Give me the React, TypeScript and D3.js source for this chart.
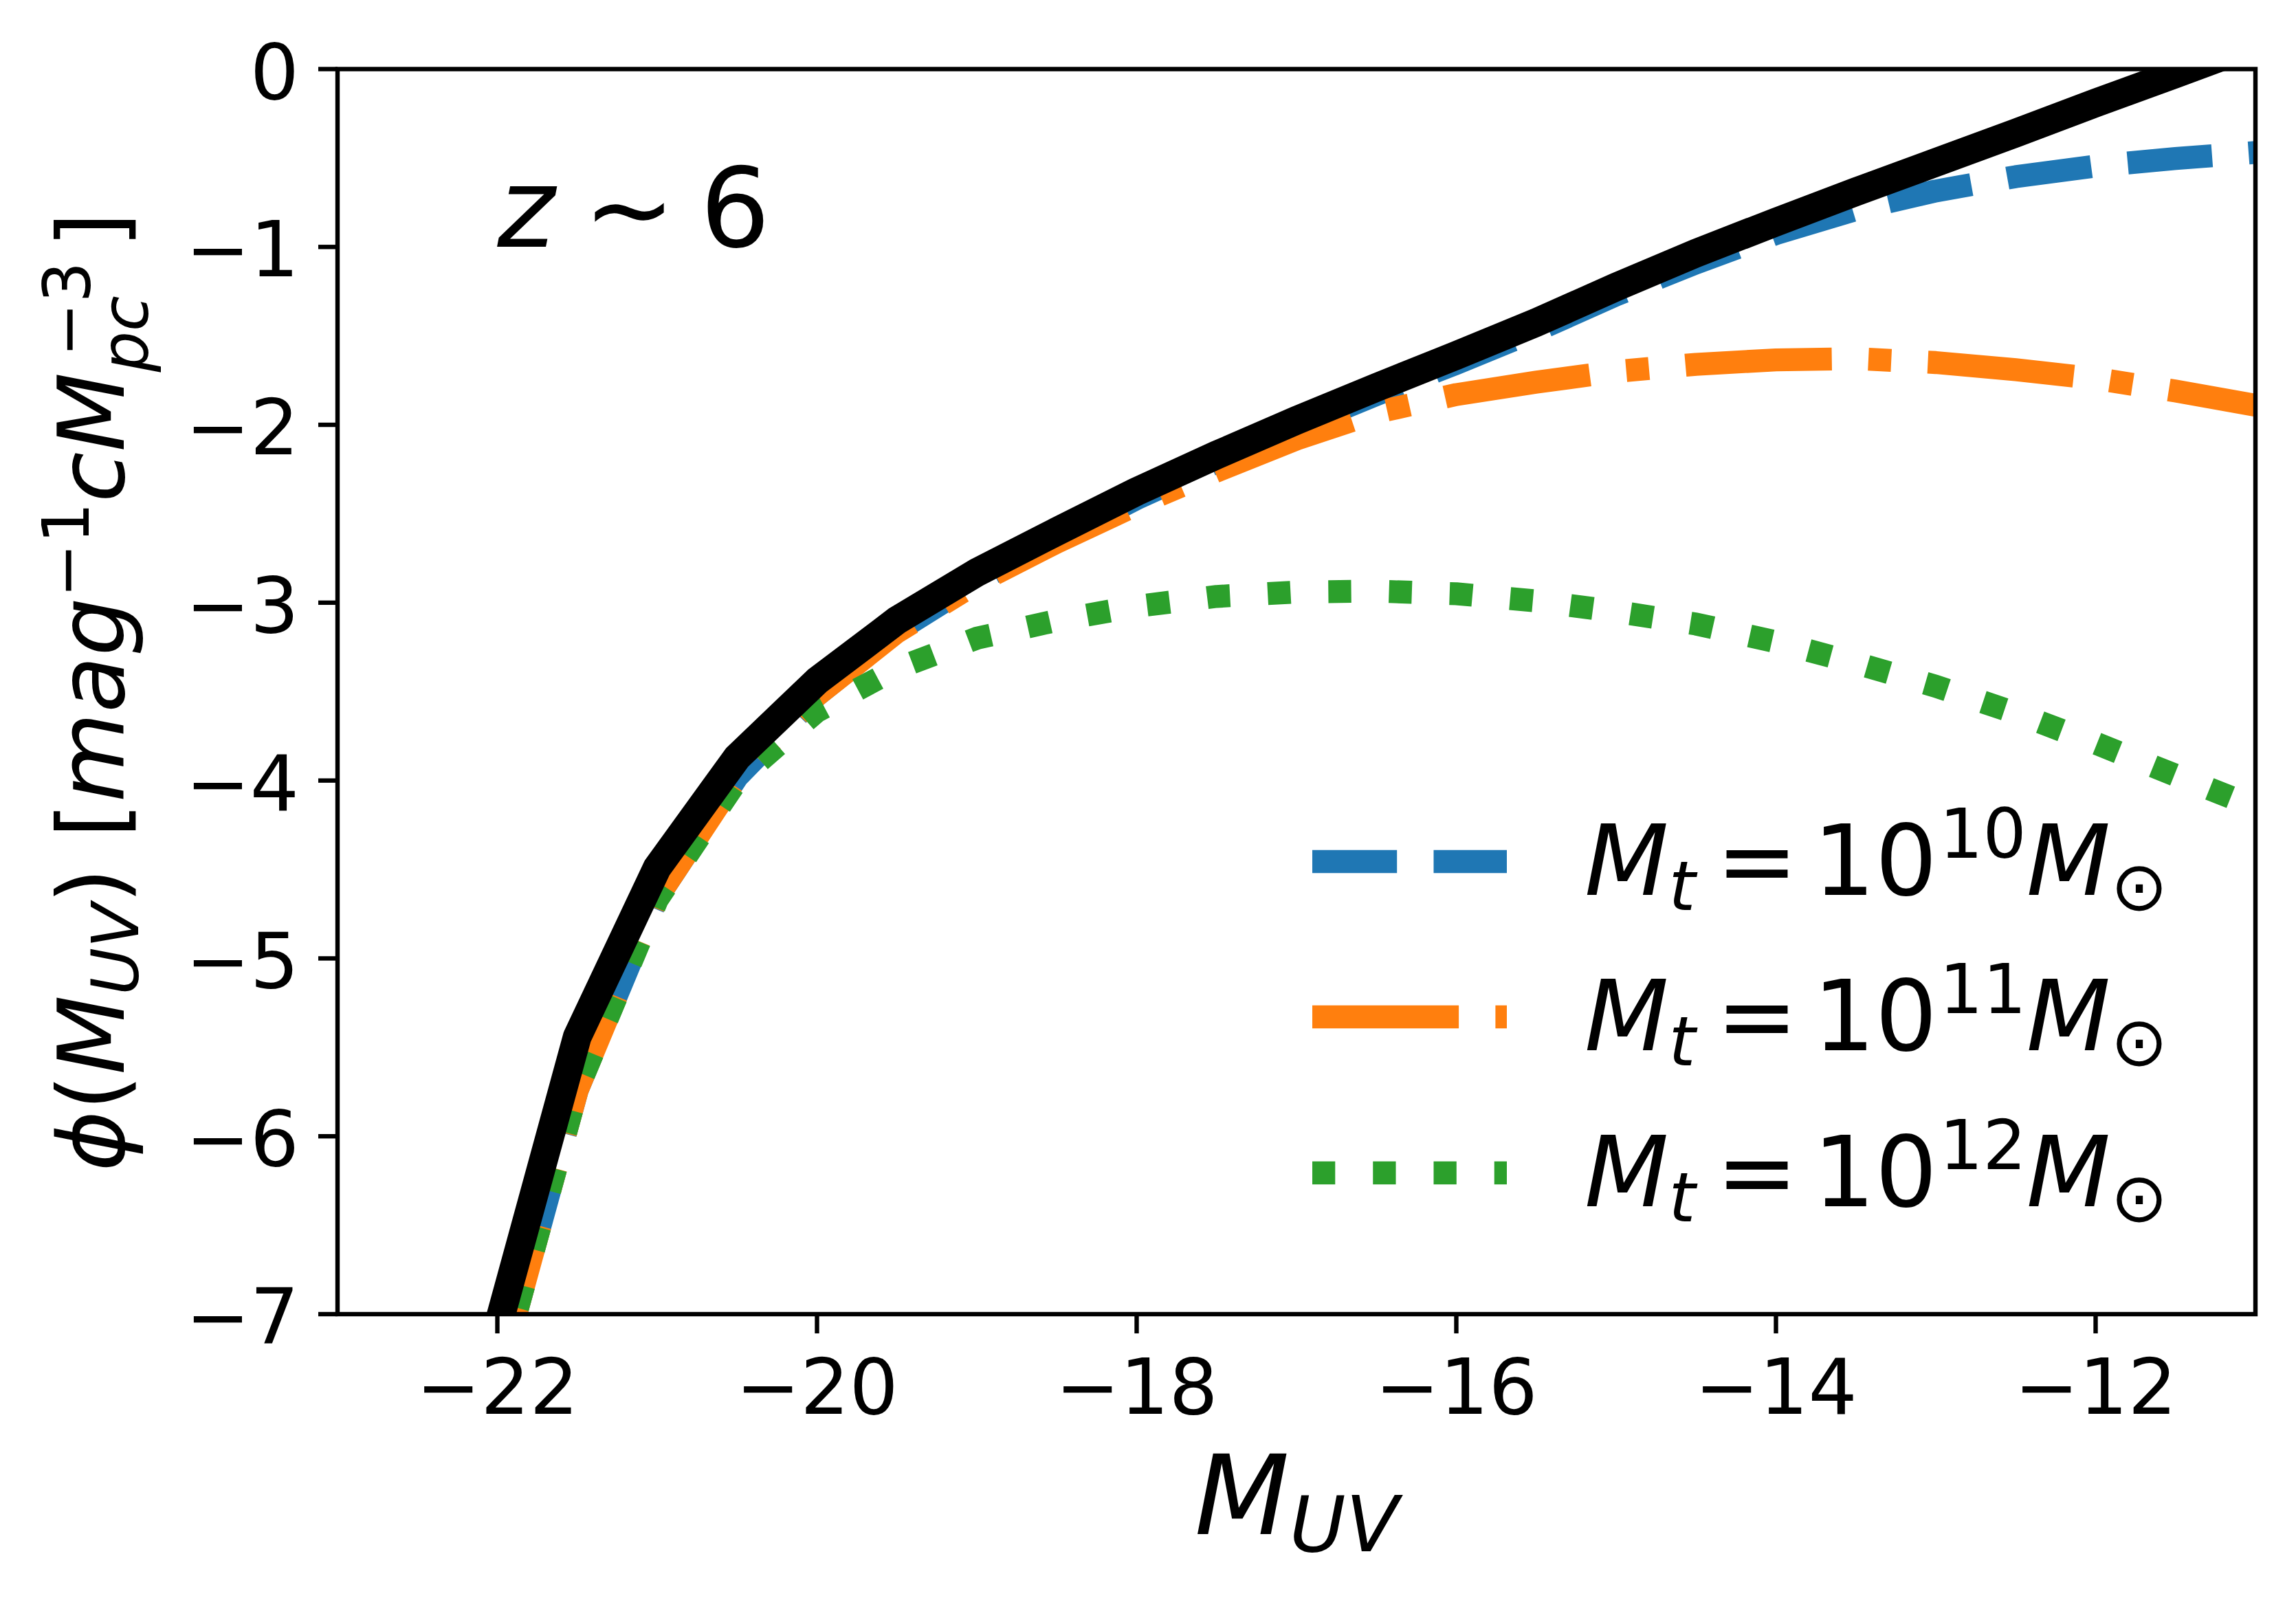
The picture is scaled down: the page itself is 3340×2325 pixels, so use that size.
import React from 'react';
import * as d3 from 'd3';

// M_UV grid (mag)
const MUV = [-22, -21.5, -21, -20.5, -20, -19.5, -19, -18.5, -18, -17.5, -17, -16.5, -16, -15.5, -15, -14.5, -14, -13.5, -13, -12.5, -12, -11.5, -11];

// log10 phi values
const PHI_BLACK = [-7.08, -5.44, -4.49, -3.87, -3.44, -3.10, -2.83, -2.60, -2.375, -2.17, -1.975, -1.79, -1.61, -1.425, -1.225, -1.035, -0.86, -0.69, -0.525, -0.36, -0.19, -0.027, 0.14];
const PHI_MT10 = [-7.38, -5.74, -4.66, -3.98, -3.52, -3.16, -2.88, -2.645, -2.415, -2.21, -2.015, -1.83, -1.655, -1.47, -1.27, -1.09, -0.925, -0.79, -0.685, -0.605, -0.545, -0.503, -0.469];
const PHI_MT11 = [-7.38, -5.74, -4.66, -3.98, -3.52, -3.165, -2.89, -2.66, -2.45, -2.26, -2.08, -1.93, -1.83, -1.76, -1.70, -1.66, -1.635, -1.628, -1.65, -1.69, -1.74, -1.81, -1.89];
const PHI_MT12 = [-7.38, -5.74, -4.67, -4.0, -3.61, -3.37, -3.20, -3.10, -3.02, -2.965, -2.94, -2.935, -2.95, -2.99, -3.05, -3.12, -3.22, -3.34, -3.47, -3.62, -3.79, -3.97, -4.15];

const X_TICKS = [-22, -20, -18, -16, -14, -12];
const Y_TICKS = [-7, -6, -5, -4, -3, -2, -1, 0];
const MT_EXPONENTS = ['10', '11', '12'];

const X_DOMAIN: [number, number] = [-23, -11];
const Y_DOMAIN: [number, number] = [-7, 0];

const FONT = '"DejaVu Sans", sans-serif';
const LW = 33.3;
const LW_BLACK = 41.7;

// dash patterns (in units of line width) and a point along the curve (M_UV) where
// a given position of the pattern sits, so the dash phase matches the figure
const SERIES = [
  { vals: PHI_MT10, color: '#1f77b4', pattern: [3.7, 1.6], anchorU: -12.29, anchorPos: 1.85 },
  { vals: PHI_MT11, color: '#ff7f0e', pattern: [6.4, 1.6, 1, 1.6], anchorU: -13.35, anchorPos: 8.5 },
  { vals: PHI_MT12, color: '#2ca02c', pattern: [1, 1.65], anchorU: -14.84, anchorPos: 0.5 },
];

const fmt = (v: number) => (v < 0 ? '\u2212' + Math.abs(v) : String(v));

export default function App() {
  const W = 3340;
  const H = 2325;
  const L = 491, R = 3281, T = 100.5, B = 1912;
  const x = d3.scaleLinear().domain(X_DOMAIN).range([L, R]);
  const y = d3.scaleLinear().domain(Y_DOMAIN).range([B, T]);
  const mkLine = (vals: number[]) =>
    d3.line<number>().x((_, i) => x(MUV[i])).y((d) => y(d))(vals) || '';

  const lenTo = (vals: number[], uStar: number) => {
    let acc = 0;
    for (let i = 1; i < MUV.length; i++) {
      const x0 = x(MUV[i - 1]), y0 = y(vals[i - 1]);
      const x1 = x(MUV[i]), y1 = y(vals[i]);
      const seg = Math.hypot(x1 - x0, y1 - y0);
      if (MUV[i] <= uStar) acc += seg;
      else {
        const t = (uStar - MUV[i - 1]) / (MUV[i] - MUV[i - 1]);
        acc += t * seg;
        break;
      }
    }
    return acc;
  };

  const tickLen = 28;
  const spineW = 6.4;
  const tickFs = 112;

  const legendX0 = 1909, legendX1 = 2192, legendTextX = 2305;
  const legendBase = [1302, 1528, 1755];

  return (
    <div style={{ position: 'absolute', left: 0, top: 0 }}>
      <svg width={W} height={H} viewBox={`0 0 ${W} ${H}`} style={{ display: 'block', background: '#fff' }} fontFamily={FONT}>
        <defs>
          <clipPath id="plotclip">
            <rect x={L} y={T} width={R - L} height={B - T} />
          </clipPath>
        </defs>
        <rect x={0} y={0} width={W} height={H} fill="#fff" />
        <g clipPath="url(#plotclip)">
          {SERIES.map((s, i) => {
            const dash = s.pattern.map((p) => p * LW);
            const period = dash.reduce((a, b) => a + b, 0);
            const sStar = lenTo(s.vals, s.anchorU);
            const off = (((s.anchorPos * LW - sStar) % period) + period) % period;
            return (
              <path key={i} d={mkLine(s.vals)} fill="none" stroke={s.color} strokeWidth={LW}
                strokeDasharray={dash.join(' ')} strokeDashoffset={off}
                strokeLinejoin="round" strokeLinecap="butt" />
            );
          })}
          <path d={mkLine(PHI_BLACK)} fill="none" stroke="#000" strokeWidth={LW_BLACK}
            strokeLinejoin="round" strokeLinecap="square" />
        </g>
        {/* spines */}
        <rect x={L} y={T} width={R - L} height={B - T} fill="none" stroke="#000" strokeWidth={spineW} />
        {/* x ticks */}
        {X_TICKS.map((t) => (
          <g key={'x' + t}>
            <line x1={x(t)} x2={x(t)} y1={B} y2={B + tickLen} stroke="#000" strokeWidth={spineW} />
            <text x={x(t)} y={2057} fontSize={tickFs} textAnchor="middle" fill="#000">{fmt(t)}</text>
          </g>
        ))}
        {/* y ticks */}
        {Y_TICKS.map((t) => (
          <g key={'y' + t}>
            <line x1={L - tickLen} x2={L} y1={y(t)} y2={y(t)} stroke="#000" strokeWidth={spineW} />
            <text x={435} y={y(t) + 43} fontSize={tickFs} textAnchor="end" fill="#000">{fmt(t)}</text>
          </g>
        ))}
        {/* x label */}
        <text x={(L + R) / 2} y={2232} fontSize={160} textAnchor="middle" fill="#000">
          <tspan fontStyle="italic">M</tspan>
          <tspan fontStyle="italic" fontSize={112} dy={24.5}>UV</tspan>
        </text>
        {/* y label */}
        <text transform={`translate(180, ${(T + B) / 2}) rotate(-90)`} x={0} y={0} fontSize={134} textAnchor="middle" fill="#000">
          <tspan fontStyle="italic">{'\u03D5'}</tspan>
          <tspan>(</tspan>
          <tspan fontStyle="italic">M</tspan>
          <tspan fontStyle="italic" fontSize={94} dy={21}>UV</tspan>
          <tspan dy={-21}>)</tspan>
          <tspan dx={43}>[</tspan>
          <tspan fontStyle="italic">mag</tspan>
          <tspan fontSize={94} dy={-51}>{'\u22121'}</tspan>
          <tspan fontStyle="italic" dy={51}>c</tspan>
          <tspan fontStyle="italic">M</tspan>
          <tspan fontStyle="italic" fontSize={94} dy={35}>pc</tspan>
          <tspan fontSize={94} dx={-89} dy={-84}>{'\u22123'}</tspan>
          <tspan dx={20} dy={49}>]</tspan>
        </text>
        {/* z ~ 6 annotation */}
        <text x={x(-22)} y={y(-1)} fontSize={160} fill="#000">
          <tspan fontStyle="italic">z</tspan>
          <tspan dx={41}>{'\u223C'}</tspan>
          <tspan dx={36}>6</tspan>
        </text>
        {/* legend */}
        {SERIES.map((s, i) => (
          <g key={'leg' + i}>
            <line x1={legendX0} x2={legendX1} y1={legendBase[i] - 48.5} y2={legendBase[i] - 48.5}
              stroke={s.color} strokeWidth={LW} strokeDasharray={s.pattern.map((p) => p * LW).join(' ')} strokeLinecap="butt" />
            <text x={legendTextX} y={legendBase[i]} fontSize={142} fill="#000">
              <tspan fontStyle="italic">M</tspan>
              <tspan fontStyle="italic" fontSize={99.4} dy={22}>t</tspan>
              <tspan dx={30} dy={-22}>=</tspan>
              <tspan dx={22}>10</tspan>
              <tspan fontSize={99.4} dx={3} dy={-53.6}>{MT_EXPONENTS[i]}</tspan>
              <tspan fontStyle="italic" dy={53.6}>M</tspan>
              <tspan fontSize={99.4} dy={22}>{'\u2299'}</tspan>
            </text>
          </g>
        ))}
      </svg>
    </div>
  );
}
